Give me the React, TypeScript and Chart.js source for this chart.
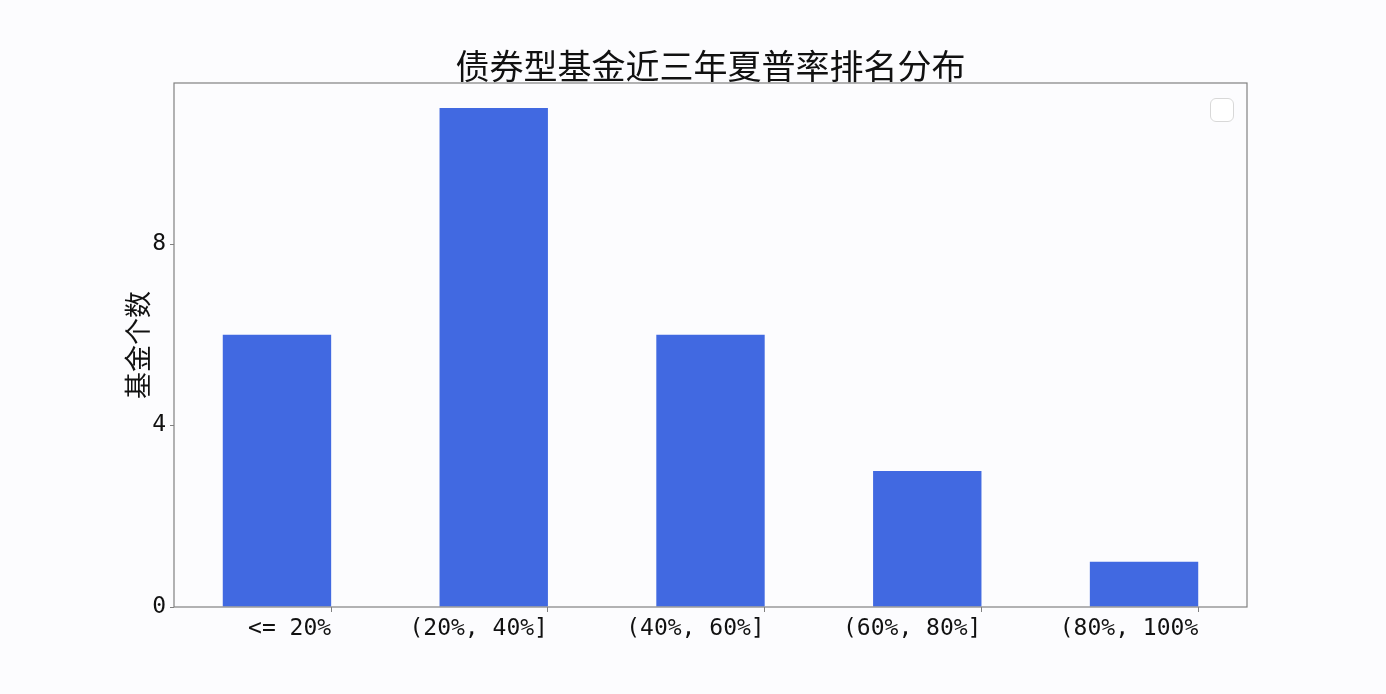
import { useEffect, useRef } from "react";
import { Chart, registerables } from "chart.js";

Chart.register(...registerables);

// 区间标签与基金个数
const categories = ["<= 20%", "(20%, 40%]", "(40%, 60%]", "(60%, 80%]", "(80%, 100%"];
const counts = [6, 11, 6, 3, 1];
const yTicks = [0, 4, 8];

const title = "债券型基金近三年夏普率排名分布";
const yTitle = "基金个数";

const cjk = '"Noto Sans CJK SC", "Noto Sans", sans-serif';
const mono = '"DejaVu Sans Mono", monospace';

// draws the four spines like matplotlib
const frame = {
  id: "frame",
  afterDraw(chart: any) {
    const { ctx, chartArea: a } = chart;
    ctx.save();
    ctx.strokeStyle = "#808080";
    ctx.lineWidth = 1.2;
    ctx.strokeRect(a.left, a.top, a.right - a.left, a.bottom - a.top);
    ctx.restore();
  },
};

export default function App() {
  const chartRef = useRef<HTMLCanvasElement>(null);

  useEffect(() => {
    let myChart: Chart | null = null;
    if (chartRef.current) {
      myChart = new Chart(chartRef.current, {
        type: "bar",
        data: {
          datasets: [
            {
              // bars sit left of their tick (align edge, width -0.5)
              data: counts.map((v, i) => ({ x: i - 0.25, y: v })),
              backgroundColor: "#4169E1",
              categoryPercentage: 1,
              barPercentage: 0.5,
            },
          ],
        },
        options: {
          animation: false,
          responsive: true,
          maintainAspectRatio: false,
          layout: { padding: { left: 0, right: 139, top: 0, bottom: 0 } },
          plugins: {
            legend: { display: false },
            tooltip: { enabled: false },
            title: {
              display: true,
              text: title,
              fullSize: false,
              color: "#111",
              font: { family: cjk, size: 34, weight: "normal", lineHeight: 1 },
              padding: { top: 49, bottom: 0 },
            },
          },
          scales: {
            x: {
              type: "linear",
              min: -0.725,
              max: 4.225,
              offset: false,
              afterBuildTicks: (s: any) => {
                s.ticks = categories.map((_, i) => ({ value: i }));
              },
              afterFit: (s: any) => {
                s.height = 87;
              },
              border: { display: false },
              grid: {
                offset: false,
                drawOnChartArea: false,
                drawTicks: true,
                tickLength: 5,
                color: "#808080",
              },
              ticks: {
                align: "end",
                autoSkip: false,
                maxRotation: 0,
                padding: 3,
                color: "#111",
                font: { family: mono, size: 23 },
                callback: (v: any) => categories[Math.round(Number(v))] ?? "",
              },
            },
            y: {
              min: 0,
              max: 11.55,
              afterBuildTicks: (s: any) => {
                s.ticks = yTicks.map((v) => ({ value: v }));
              },
              afterFit: (s: any) => {
                s.width = 174;
              },
              border: { display: false },
              grid: {
                drawOnChartArea: false,
                drawTicks: true,
                tickLength: 4,
                color: "#808080",
              },
              ticks: {
                padding: 4,
                color: "#111",
                font: { family: mono, size: 23 },
              },
              title: {
                display: true,
                text: yTitle,
                color: "#111",
                font: { family: cjk, size: 27, lineHeight: 1 },
                padding: { top: 124, bottom: 0 },
              },
            },
          },
        },
        plugins: [frame],
      } as any);
    }
    return () => {
      if (myChart) myChart.destroy();
    };
  }, []);

  return (
    <div
      style={{
        position: "absolute",
        left: 0,
        top: 0,
        width: 1386,
        height: 694,
        background: "#fcfcfe",
      }}
    >
      <canvas ref={chartRef}></canvas>
      {/* empty legend frame */}
      <div
        style={{
          position: "absolute",
          left: 1210,
          top: 98,
          width: 22,
          height: 22,
          border: "1px solid #d8d8d8",
          borderRadius: 6,
          background: "#fff",
        }}
      />
    </div>
  );
}
